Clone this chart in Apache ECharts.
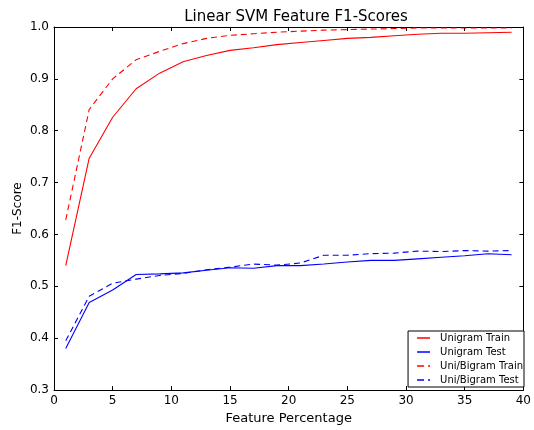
<!DOCTYPE html>
<html>
<head>
<meta charset="UTF-8">
<title>Linear SVM Feature F1-Scores</title>
<script src="https://cdn.jsdelivr.net/npm/echarts@6/dist/echarts.min.js"></script>
<style>
  html, body { margin: 0; padding: 0; background: #fff; }
  #chart { width: 534px; height: 430px; }
</style>
</head>
<body>
<div id="chart"></div>
<script>
// feature percentages (x)
var featurePct = [1, 3, 5, 7, 9, 11, 13, 15, 17, 19, 21, 23, 25, 27, 29, 31, 33, 35, 37, 39];

var unigramTrain = [0.540, 0.747, 0.826, 0.881, 0.911, 0.933, 0.945, 0.955, 0.960, 0.966, 0.970, 0.974, 0.978, 0.980, 0.983, 0.986, 0.988, 0.988, 0.989, 0.990];
var unigramTest = [0.380, 0.469, 0.493, 0.523, 0.524, 0.526, 0.531, 0.536, 0.535, 0.540, 0.540, 0.543, 0.547, 0.550, 0.550, 0.553, 0.556, 0.559, 0.563, 0.561];
var biTrain = [0.628, 0.841, 0.900, 0.937, 0.953, 0.968, 0.978, 0.984, 0.987, 0.990, 0.992, 0.994, 0.995, 0.996, 0.997, 0.998, 0.998, 0.998, 0.998, 0.998];
var biTest = [0.395, 0.481, 0.506, 0.514, 0.521, 0.525, 0.532, 0.537, 0.543, 0.541, 0.545, 0.560, 0.560, 0.563, 0.564, 0.568, 0.567, 0.569, 0.568, 0.569];

var seriesNames = ['Unigram Train', 'Unigram Test', 'Uni/Bigram Train', 'Uni/Bigram Test'];

// legend samples like matplotlib: a solid stroke, or a dash plus a dot
var solidIcon = 'path://M0,0h13v1.5h-13z';
var dashIcon = 'path://M0,0h7v1.5h-7zM11,0h2v1.5h-2z';

function pairs(ys) {
  var out = [];
  for (var i = 0; i < featurePct.length; i++) out.push([featurePct[i], ys[i]]);
  return out;
}

function line(name, ys, color, dashed) {
  return {
    name: name,
    type: 'line',
    data: pairs(ys),
    symbol: 'none',
    animation: false,
    lineStyle: { color: color, width: 1.1, type: dashed ? [6, 4] : 'solid' },
    itemStyle: { color: color }
  };
}

var font = 'DejaVu Sans';
var myChart = echarts.init(document.getElementById('chart'));

var axisBase = {
  axisLine: { show: true, onZero: false, lineStyle: { color: '#000', width: 1 } },
  axisTick: { show: true, inside: true, length: 4, lineStyle: { color: '#000' } },
  splitLine: { show: false }
};

var option = {
  backgroundColor: '#fff',
  title: {
    text: 'Linear SVM Feature F1-Scores',
    left: 291, top: 5, textAlign: 'center',
    textStyle: { fontFamily: font, fontSize: 15, fontWeight: 'normal', color: '#000' }
  },
  grid: { left: 54, right: 7, top: 27, bottom: 36 },
  legend: {
    orient: 'vertical',
    right: 10, bottom: 43,
    data: [
      { name: seriesNames[0], icon: solidIcon },
      { name: seriesNames[1], icon: solidIcon },
      { name: seriesNames[2], icon: dashIcon },
      { name: seriesNames[3], icon: dashIcon }
    ],
    itemWidth: 13, itemHeight: 10, itemGap: 4,
    padding: [2, 1, 2, 9],
    borderColor: '#000', borderWidth: 1,
    backgroundColor: '#fff',
    formatter: '{t|{name}}',
    textStyle: {
      fontFamily: font, fontSize: 10, color: '#000',
      rich: { t: { fontFamily: font, fontSize: 10, color: '#000', padding: [0, 0, 0, 5] } }
    }
  },
  xAxis: [
    Object.assign({}, axisBase, {
      type: 'value', min: 0, max: 40, interval: 5, position: 'bottom',
      name: 'Feature Percentage', nameLocation: 'middle', nameGap: 21,
      nameTextStyle: { fontFamily: font, fontSize: 13, color: '#000' },
      axisLabel: { fontFamily: font, fontSize: 12, color: '#000', margin: 5 }
    }),
    Object.assign({}, axisBase, {
      type: 'value', min: 0, max: 40, interval: 5, position: 'top',
      axisLabel: { show: false }
    })
  ],
  yAxis: [
    Object.assign({}, axisBase, {
      type: 'value', min: 0.3, max: 1.0, interval: 0.1, position: 'left',
      name: 'F1-Score', nameLocation: 'middle', nameGap: 30, nameMoveOverlap: false,
      nameTextStyle: { fontFamily: font, fontSize: 12, color: '#000' },
      axisLabel: { fontFamily: font, fontSize: 12, color: '#000', margin: 5,
        formatter: function (v) { return v.toFixed(1); } }
    }),
    Object.assign({}, axisBase, {
      type: 'value', min: 0.3, max: 1.0, interval: 0.1, position: 'right',
      axisLabel: { show: false }
    })
  ],
  series: [
    line(seriesNames[0], unigramTrain, '#ff0000', false),
    line(seriesNames[1], unigramTest, '#0000ff', false),
    line(seriesNames[2], biTrain, '#ff0000', true),
    line(seriesNames[3], biTest, '#0000ff', true)
  ]
};

myChart.setOption(option);
</script>
</body>
</html>
